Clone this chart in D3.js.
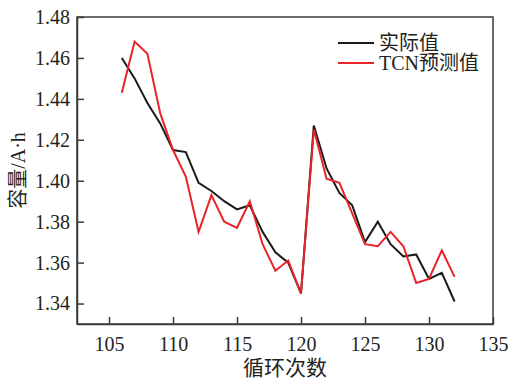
<!DOCTYPE html>
<html>
<head>
<meta charset="utf-8">
<script src="https://cdn.jsdelivr.net/npm/d3@7"></script>
<style>
  html, body { margin: 0; padding: 0; background: #fff; }
  svg { display: block; }
  text { font-family: "Liberation Serif", "Times New Roman", "Noto Sans CJK SC", serif; fill: #231f20; }
</style>
</head>
<body>
<svg id="chart" width="512" height="380"></svg>
<script>
// Cycle numbers
const cycles = d3.range(106, 133);
// Measured capacity (A·h)
const actual = [1.460, 1.450, 1.438, 1.428, 1.415, 1.414, 1.399, 1.395, 1.390, 1.386,
                1.388, 1.375, 1.365, 1.360, 1.345, 1.427, 1.406, 1.394, 1.388, 1.370,
                1.380, 1.369, 1.363, 1.364, 1.352, 1.355, 1.341];
// TCN predicted capacity (A·h)
const predicted = [1.443, 1.468, 1.462, 1.433, 1.415, 1.402, 1.375, 1.393, 1.380, 1.377,
                   1.390, 1.369, 1.356, 1.361, 1.345, 1.425, 1.401, 1.399, 1.384, 1.369,
                   1.368, 1.375, 1.368, 1.350, 1.352, 1.366, 1.353];
const xTicks = [105, 110, 115, 120, 125, 130, 135];
const yTicks = [1.34, 1.36, 1.38, 1.40, 1.42, 1.44, 1.46, 1.48];
const seriesNames = ["实际值", "TCN预测值"];
const seriesColors = ["#1a1a1a", "#e8232a"];

const svg = d3.select("#chart");
const m = { left: 77, right: 19, top: 17, bottom: 56 };
const W = 512, H = 380;

const x = d3.scaleLinear().domain([102.5, 135]).range([m.left, W - m.right]);
const y = d3.scaleLinear().domain([1.33, 1.48]).range([H - m.bottom, m.top]);

// Frame
svg.append("rect")
  .attr("x", m.left).attr("y", m.top)
  .attr("width", W - m.right - m.left).attr("height", H - m.bottom - m.top)
  .attr("fill", "none").attr("stroke", "#3a3a3a").attr("stroke-width", 1.5);

// Axes with inward ticks
const xAxis = svg.append("g")
  .attr("transform", `translate(0,${H - m.bottom})`)
  .call(d3.axisBottom(x).tickValues(xTicks).tickSizeInner(-7).tickSizeOuter(0).tickPadding(13).tickFormat(d3.format("d")));
const yAxis = svg.append("g")
  .attr("transform", `translate(${m.left},0)`)
  .call(d3.axisLeft(y).tickValues(yTicks).tickSizeInner(-7).tickSizeOuter(0).tickPadding(7).tickFormat(d3.format(".2f")));

[xAxis, yAxis].forEach(g => {
  g.select(".domain").attr("stroke", "#3a3a3a").attr("stroke-width", 1.5);
  g.selectAll(".tick line").attr("stroke", "#3a3a3a").attr("stroke-width", 1.5);
  g.selectAll(".tick text").attr("font-size", 20).attr("fill", "#231f20")
    .style("font-family", "'Liberation Serif', serif");
});

// Lines
const line = vals => d3.line()
  .x((d, i) => x(cycles[i]))
  .y(d => y(d))(vals);

[actual, predicted].forEach((vals, k) => {
  svg.append("path")
    .attr("d", line(vals))
    .attr("fill", "none")
    .attr("stroke", seriesColors[k])
    .attr("stroke-width", 2)
    .attr("stroke-linejoin", "miter");
});

// Legend
const lg = svg.append("g");
seriesNames.forEach((name, k) => {
  const yy = 43 + k * 20;
  lg.append("line")
    .attr("x1", 338).attr("x2", 374).attr("y1", yy).attr("y2", yy)
    .attr("stroke", seriesColors[k]).attr("stroke-width", 2);
  lg.append("text")
    .attr("x", 379).attr("y", yy + 7)
    .attr("font-size", 20)
    .text(name);
});

// Axis titles
svg.append("text")
  .attr("x", (m.left + W - m.right) / 2).attr("y", 375)
  .attr("text-anchor", "middle").attr("font-size", 21)
  .text("循环次数");
svg.append("text")
  .attr("transform", `translate(25,${(m.top + H - m.bottom) / 2}) rotate(-90)`)
  .attr("text-anchor", "middle").attr("font-size", 20)
  .text("容量/A·h");
</script>
</body>
</html>
